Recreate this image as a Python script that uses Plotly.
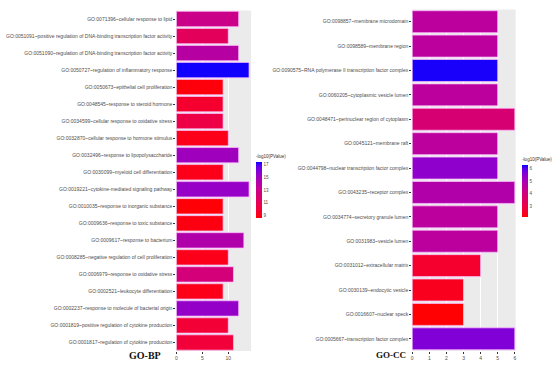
import numpy as np
import plotly.graph_objects as go

# ---------------- data ----------------
bp_terms = [
    "GO:0071396~cellular response to lipid",
    "GO:0051091~positive regulation of DNA-binding transcription factor activity",
    "GO:0051090~regulation of DNA-binding transcription factor activity",
    "GO:0050727~regulation of inflammatory response",
    "GO:0050673~epithelial cell proliferation",
    "GO:0048545~response to steroid hormone",
    "GO:0034599~cellular response to oxidative stress",
    "GO:0032870~cellular response to hormone stimulus",
    "GO:0032496~response to lipopolysaccharide",
    "GO:0030099~myeloid cell differentiation",
    "GO:0019221~cytokine-mediated signaling pathway",
    "GO:0010035~response to inorganic substance",
    "GO:0009636~response to toxic substance",
    "GO:0009617~response to bacterium",
    "GO:0008285~negative regulation of cell proliferation",
    "GO:0006979~response to oxidative stress",
    "GO:0002521~leukocyte differentiation",
    "GO:0002237~response to molecule of bacterial origin",
    "GO:0001819~positive regulation of cytokine production",
    "GO:0001817~regulation of cytokine production",
]
bp_count = [12, 10, 12, 14, 9, 9, 9, 10, 12, 9, 14, 9, 9, 13, 10, 11, 9, 12, 10, 11]
bp_logp = [13.0, 11.2, 14.0, 17.3, 8.8, 9.6, 10.4, 9.0, 15.0, 9.0, 15.3, 8.7, 8.9, 14.3, 9.0,
           12.4, 9.0, 15.4, 9.9, 10.0]
bp_ticks = [9, 11, 13, 15, 17]

cc_terms = [
    "GO:0098857~membrane microdomain",
    "GO:0098589~membrane region",
    "GO:0090575~RNA polymerase II transcription factor complex",
    "GO:0060205~cytoplasmic vesicle lumen",
    "GO:0048471~perinuclear region of cytoplasm",
    "GO:0045121~membrane raft",
    "GO:0044798~nuclear transcription factor complex",
    "GO:0043235~receptor complex",
    "GO:0034774~secretory granule lumen",
    "GO:0031983~vesicle lumen",
    "GO:0031012~extracellular matrix",
    "GO:0030139~endocytic vesicle",
    "GO:0016607~nuclear speck",
    "GO:0005667~transcription factor complex",
]
cc_count = [5, 5, 5, 5, 6, 5, 5, 6, 5, 5, 4, 3, 3, 6]
cc_logp = [4.6, 4.6, 6.2, 4.6, 3.8, 4.6, 5.4, 4.8, 4.6, 4.6, 2.6, 2.4, 2.15, 5.6]
cc_ticks = [3, 4, 5, 6]


# ------------- ggplot-like red->blue gradient (Lab interpolation) -------------
def _srgb_to_lab(rgb):
    c = np.array(rgb, float) / 255
    c = np.where(c > 0.04045, ((c + 0.055) / 1.055) ** 2.4, c / 12.92)
    m = np.array([[0.4124, 0.3576, 0.1805], [0.2126, 0.7152, 0.0722], [0.0193, 0.1192, 0.9505]])
    xyz = m @ c / np.array([0.95047, 1.0, 1.08883])
    f = np.where(xyz > 0.008856, np.cbrt(xyz), 7.787 * xyz + 16 / 116)
    return np.array([116 * f[1] - 16, 500 * (f[0] - f[1]), 200 * (f[1] - f[2])])


def _lab_to_srgb(lab):
    L, a, b = lab
    fy = (L + 16) / 116
    fx = fy + a / 500
    fz = fy - b / 200
    f = np.array([fx, fy, fz])
    xyz = np.where(f ** 3 > 0.008856, f ** 3, (f - 16 / 116) / 7.787) * np.array([0.95047, 1.0, 1.08883])
    m = np.array([[3.2406, -1.5372, -0.4986], [-0.9689, 1.8758, 0.0415], [0.0557, -0.2040, 1.0570]])
    c = m @ xyz
    c = np.clip(c, 0, 1)
    c = np.where(c > 0.0031308, 1.055 * c ** (1 / 2.4) - 0.055, 12.92 * c)
    c = np.clip(np.round(c * 255), 0, 255).astype(int)
    return "rgb(%d,%d,%d)" % tuple(c)


lo, hi = _srgb_to_lab((255, 0, 0)), _srgb_to_lab((0, 0, 255))
scale = [[t, _lab_to_srgb(lo + (hi - lo) * t)] for t in np.linspace(0, 1, 21)]

W, H = 560, 366
FONT = "Liberation Sans Narrow, Arial Narrow, Liberation Sans, Arial"

fig = go.Figure()
fig.add_trace(go.Bar(
    x=bp_count, y=bp_terms, orientation="h", xaxis="x", yaxis="y",
    marker=dict(color=bp_logp, coloraxis="coloraxis",
                line=dict(color="rgba(255,190,255,0.9)", width=0.8)),
))
fig.add_trace(go.Bar(
    x=cc_count, y=cc_terms, orientation="h", xaxis="x2", yaxis="y2",
    marker=dict(color=cc_logp, coloraxis="coloraxis2",
                line=dict(color="rgba(255,190,255,0.9)", width=0.8)),
))

axis_common = dict(
    showline=False, zeroline=False, ticks="outside", ticklen=2, tickwidth=0.6,
    tickcolor="#333333", tickfont=dict(size=5, color="#4d4d4d", family=FONT),
)
fig.update_layout(
    width=W, height=H, margin=dict(l=0, r=0, t=0, b=0),
    paper_bgcolor="white", plot_bgcolor="#ebebeb", showlegend=False,
    bargap=0.1, font=dict(family=FONT),
    xaxis=dict(domain=[176 / W, 251 / W], range=[0, 14.4], tickvals=[0, 5, 10],
               showgrid=True, gridcolor="white", gridwidth=0.8, anchor="y", **axis_common),
    yaxis=dict(domain=[1 - 351 / H, 1 - 10.5 / H], autorange="reversed", anchor="x",
               showgrid=False, **axis_common),
    xaxis2=dict(domain=[412.7 / W, 516.5 / W], range=[0, 6.05], tickvals=[0, 1, 2, 3, 4, 5, 6],
                showgrid=True, gridcolor="white", gridwidth=0.8, anchor="y2", **axis_common),
    yaxis2=dict(domain=[1 - 351 / H, 1 - 9.5 / H], autorange="reversed", anchor="x2",
                showgrid=False, **axis_common),
    coloraxis=dict(
        colorscale=scale, cmin=8.6, cmax=17.4,
        colorbar=dict(x=256 / W, xanchor="left", y=1 - 185 / H, yanchor="middle",
                      len=66 / H, lenmode="fraction", thickness=6, outlinewidth=0,
                      xpad=0, ypad=0,
                      tickvals=bp_ticks, ticks="", tickfont=dict(size=4.5, color="#4d4d4d"),
                      title=dict(text="-log10(PValue)", side="top", font=dict(size=4.5, color="#333"))),
    ),
    coloraxis2=dict(
        colorscale=scale, cmin=2.13, cmax=6.27,
        colorbar=dict(x=523 / W, xanchor="left", y=1 - 186 / H, yanchor="middle",
                      len=62 / H, lenmode="fraction", thickness=6, outlinewidth=0,
                      xpad=0, ypad=0,
                      tickvals=cc_ticks, ticks="", tickfont=dict(size=4.5, color="#4d4d4d"),
                      title=dict(text="-log10(PValue)", side="top", font=dict(size=4.5, color="#333"))),
    ),
    annotations=[
        dict(text="<b>GO-BP</b>", x=145 / W, y=1 - 355 / H, xref="paper", yref="paper",
             xanchor="center", yanchor="middle", showarrow=False,
             font=dict(family="Liberation Serif, Times New Roman", size=10, color="#111")),
        dict(text="<b>GO-CC</b>", x=391 / W, y=1 - 355 / H, xref="paper", yref="paper",
             xanchor="center", yanchor="middle", showarrow=False,
             font=dict(family="Liberation Serif, Times New Roman", size=9, color="#111")),
    ],
)

fig.write_html("out.html", config={"displayModeBar": False},
               post_script="document.body.style.margin='0';document.body.style.padding='0';")
